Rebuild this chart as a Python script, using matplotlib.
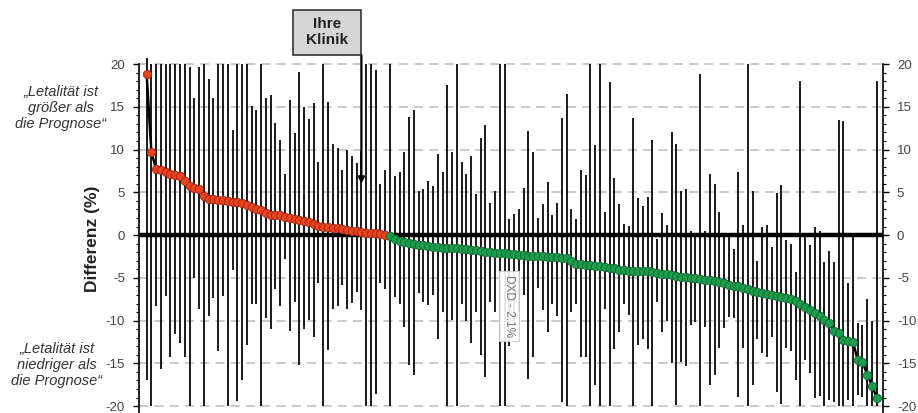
import matplotlib
matplotlib.use("Agg")
import matplotlib.pyplot as plt
from matplotlib.ticker import MultipleLocator, FixedLocator
from matplotlib.patches import Rectangle
import numpy as np

# ---------------- data ----------------
# Differenz (beobachtete - erwartete Letalitaet, %) je Klinik, absteigend sortiert
diff = [
    18.8, 9.7, 7.7, 7.6, 7.4, 7.2, 7.0, 6.9, 6.3, 5.7,
    5.5, 5.4, 4.6, 4.2, 4.2, 4.1, 4.1, 4.0, 3.9, 3.9,
    3.7, 3.5, 3.3, 3.1, 2.9, 2.6, 2.4, 2.4, 2.3, 2.1,
    2.0, 1.9, 1.8, 1.7, 1.5, 1.3, 1.1, 1.0, 0.9, 0.85,
    0.8, 0.7, 0.6, 0.5, 0.45, 0.4, 0.3, 0.25, 0.2, 0.1,
    0.05, -0.1, -0.4, -0.7, -0.85, -0.95, -1.05, -1.15, -1.2, -1.3,
    -1.35, -1.4, -1.45, -1.5, -1.5, -1.55, -1.6, -1.65, -1.7, -1.8,
    -1.85, -1.95, -2.0, -2.05, -2.1, -2.15, -2.2, -2.25, -2.3, -2.35,
    -2.4, -2.45, -2.5, -2.5, -2.55, -2.6, -2.6, -2.65, -2.7, -3.0,
    -3.35, -3.4, -3.5, -3.55, -3.6, -3.65, -3.7, -3.8, -3.9, -4.05,
    -4.1, -4.15, -4.2, -4.2, -4.25, -4.25, -4.3, -4.4, -4.5, -4.6,
    -4.7, -4.8, -4.9, -4.95, -5.0, -5.05, -5.1, -5.2, -5.3, -5.4,
    -5.5, -5.6, -5.8, -5.9, -6.0, -6.2, -6.3, -6.5, -6.7, -6.8,
    -6.9, -7.0, -7.1, -7.2, -7.3, -7.5, -7.7, -8.0, -8.4, -8.8,
    -9.1, -9.5, -9.9, -10.3, -11.2, -11.5, -12.3, -12.4, -12.5, -14.6,
    -14.8, -16.3, -17.6, -19.0,
]

# obere Grenze des Konfidenzintervalls (auf 20 abgeschnitten)
ci_upper = [
    20.7, 20, 20, 20, 20, 20, 20, 20, 20, 19.7,
    16.0, 19.7, 20, 18.2, 16.0, 20, 20, 20, 12.3, 20,
    20, 20, 15.1, 14.6, 20, 16.0, 16.4, 13.1, 11.1, 7.2,
    15.8, 11.9, 19.1, 15.0, 13.6, 15.4, 8.5, 20, 15.6, 10.7,
    10.2, 7.6, 9.9, 9.3, 8.4, 9.8, 20, 20, 19.3, 6.0,
    7.6, 20, 6.9, 7.4, 9.7, 13.8, 14.6, 5.1, 5.4, 6.3,
    5.7, 9.5, 7.4, 17.5, 9.7, 20, 8.5, 7.2, 9.3, 4.8,
    11.3, 12.9, 3.8, 5.1, 20, 20, 1.9, 2.5, 3.0, 5.5,
    12.2, 9.7, 2.0, 3.6, 6.2, 2.3, 3.7, 13.7, 16.5, 3.0,
    1.9, 7.6, 7.0, 20, 10.5, 20, 2.7, 17.9, 6.7, 3.6,
    1.3, 1.1, 13.7, 4.3, 3.4, 4.5, 11.1, -0.5, 2.6, 1.2,
    12.0, 10.7, 5.2, 5.4, 0.5, 0.3, 18.8, 0.5, 7.2, 6.0,
    2.7, 0.3, 0.3, -1.6, 7.4, 1.2, 20, 5.2, -3.0, 1.0,
    1.2, -1.4, 4.9, 5.8, -0.6, -1.0, -4.3, 18.0, 0.3, -1.2,
    0.9, 0.5, -3.1, -1.9, -3.1, 13.5, 13.3, -5.6, 0.2, -10.3,
    -10.5, -7.5, -10.1, 18.0,
]

# untere Grenze des Konfidenzintervalls (auf -20 abgeschnitten)
ci_lower = [
    -17.0, -20, -8.3, -15.7, -7.1, -14.2, -11.6, -12.6, -14.3, -20,
    -5.0, -8.6, -20, -9.5, -7.4, -13.6, -7.1, -20, -4.1, -19.4,
    -16.9, -12.9, -8.0, -8.0, -20, -9.7, -11.0, -6.3, -8.3, -2.8,
    -11.2, -7.8, -15.2, -11.0, -9.9, -11.9, -5.6, -20, -13.4, -8.6,
    -8.3, -5.8, -8.6, -7.9, -6.7, -8.8, -20, -20, -18.6, -5.6,
    -6.3, -20, -7.2, -8.1, -10.7, -15.2, -16.3, -6.8, -7.8, -8.2,
    -7.0, -12.1, -9.0, -20, -9.9, -20, -8.0, -10.1, -12.6, -9.0,
    -14.0, -16.6, -7.8, -9.0, -20, -20, -13.0, -10.0, -9.0, -7.0,
    -16.8, -14.2, -6.2, -8.8, -11.3, -8.0, -9.5, -19.5, -20, -9.0,
    -8.0, -14.2, -14.2, -20, -17.5, -20, -8.6, -20, -13.3, -11.3,
    -8.1, -9.4, -20, -12.9, -12.1, -13.3, -20, -7.8, -11.3, -10.1,
    -15.0, -19.9, -14.8, -15.3, -10.5, -10.2, -20, -10.8, -17.5, -16.3,
    -13.2, -10.9, -9.6, -9.7, -18.9, -13.2, -20, -17.5, -12.1, -13.8,
    -14.3, -11.9, -18.4, -19.7, -13.2, -13.6, -16.9, -20, -14.6, -16.1,
    -19.1, -18.8, -20, -19.3, -19.5, -20, -20, -19.3, -20, -18.7,
    -18.9, -20, -20, -20,
]

yticks = [20, 15, 10, 5, 0, -5, -10, -15, -20]
your_clinic = 45              # Position "Ihre Klinik"
overall_label = "DXD - 2.1%"
ylabel = "Differenz (%)"
text_above = "\u201eLetalit\u00e4t ist\ngr\u00f6\u00dfer als\ndie Prognose\u201c"
text_below = "\u201eLetalit\u00e4t ist\nniedriger als\ndie Prognose\u201c"

# ---------------- figure ----------------
plt.rcParams["font.family"] = ["Liberation Sans", "DejaVu Sans"]

W, H = 918, 413
fig = plt.figure(figsize=(W / 100, H / 100), dpi=100)
ax = fig.add_axes([139 / W, 0.0, 744 / W, 0.8615])

d = np.array(diff)
x = np.arange(len(d))
ax.set_xlim(-1.6, len(d) - 1 + 1.3)
ax.set_ylim(-20.8, 20.8)

# grid
for g in yticks:
    ax.axhline(g, color="#bcbcbc", lw=1.1, ls=(0, (6, 4)), zorder=0)

# confidence intervals
ax.vlines(x, ci_lower, ci_upper, color="#111111", lw=1.35, zorder=2)

# zero line
ax.axhline(0, color="black", lw=3.2, zorder=3)

# connecting line + points
ax.plot(x, d, color="black", lw=1.8, zorder=4)
pos = d > 0
ax.plot(x[pos], d[pos], "o", ms=6.0, mfc="#e8421e", mec="#a02812", mew=0.6, zorder=5)
ax.plot(x[~pos], d[~pos], "o", ms=6.0, mfc="#1c9c4c", mec="#0e6a30", mew=0.6, zorder=5)

# axes styling
for s in ("top", "bottom"):
    ax.spines[s].set_visible(False)
for s in ("left", "right"):
    ax.spines[s].set_bounds(-20.8, 20)
    ax.spines[s].set_linewidth(1.2)
ax.set_xticks([])
ax.yaxis.set_major_locator(FixedLocator(yticks))
ax.yaxis.set_minor_locator(MultipleLocator(1))
ax.tick_params(axis="y", which="major", direction="out", length=4, width=1,
               labelsize=9.5, labelcolor="#444444", left=True, right=True,
               labelleft=True, labelright=True, pad=6)
ax.tick_params(axis="y", which="minor", direction="out", length=2.5, width=0.8,
               left=True, right=True)
ax.set_yticklabels([str(t) for t in yticks])

# y label
fig.text(93 / W, 1 - 239 / H, ylabel, rotation=90, ha="center", va="center",
         fontsize=12.5, fontweight="bold", color="#222222")

# side texts
fig.text(61 / W, 1 - 108 / H, text_above, ha="center", va="center",
         fontsize=10.5, style="italic", color="#333333", linespacing=1.15)
fig.text(57 / W, 1 - 365 / H, text_below, ha="center", va="center",
         fontsize=10.5, style="italic", color="#333333", linespacing=1.15)

# "Ihre Klinik" box and arrow
fig.add_artist(Rectangle((293 / W, 1 - 55 / H), 68 / W, 45 / H,
                         transform=fig.transFigure, fc="#d6d6d6", ec="#333333", lw=1.2))
fig.text(327 / W, 1 - 32 / H, "Ihre\nKlinik", ha="center", va="center",
         fontsize=11, fontweight="bold", color="#222222", linespacing=1.15)
ax.annotate("", xy=(your_clinic, 6.0), xytext=(your_clinic, 21.05),
            arrowprops=dict(arrowstyle="-|>", color="black", lw=1.6, mutation_scale=9,
                            shrinkA=0, shrinkB=0),
            annotation_clip=False, zorder=6)

# overall label
ax.text(76, -8.3, overall_label, rotation=270, ha="center", va="center",
        fontsize=8.5, color="#777777", zorder=6,
        bbox=dict(boxstyle="square,pad=0.35", fc="white", ec="#cccccc", lw=0.8, alpha=0.9))

fig.savefig("out.png", dpi=100)
